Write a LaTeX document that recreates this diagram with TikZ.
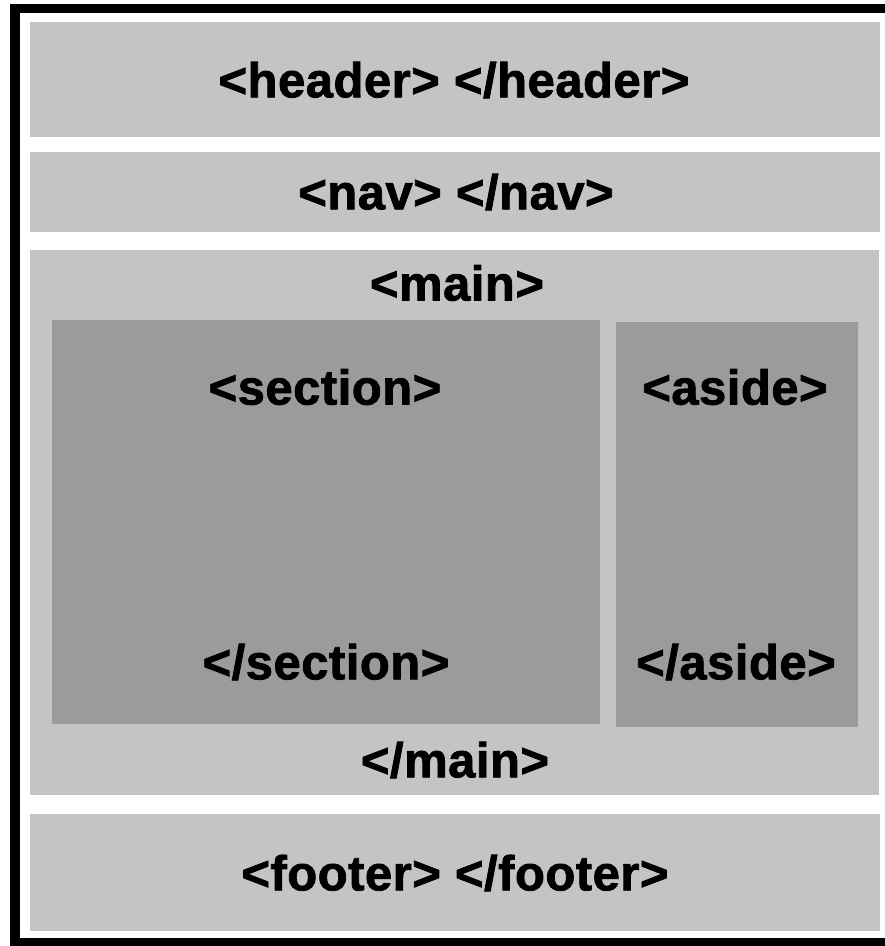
\documentclass[tikz,border=0pt]{standalone}
\usepackage{fontspec}
\setmainfont{Liberation Sans}
\newfontfamily\heavyfont[BoldFont={* Bold}, BoldFeatures={FakeBold=1.6, LetterSpace=1}]{Liberation Sans}
\definecolor{lightbox}{RGB}{196,196,196}
\definecolor{darkbox}{RGB}{155,155,155}
\begin{document}
\begin{tikzpicture}[x=1pt,y=-1pt,
  lbl/.style={font=\heavyfont\fontsize{49}{60}\selectfont\bfseries, text=black, inner sep=0pt},
  lightfill/.style={fill=lightbox, draw=none},
  darkfill/.style={fill=darkbox, draw=none}]
\useasboundingbox (0,0) rectangle (885,946);
\fill[white] (0,0) rectangle (885,946);
\begin{scope}
\clip (0,0) rectangle (885,946);
\draw[line width=9.5pt] (15,8.5) rectangle (893,942.5);
\end{scope}
% bands
\fill[lightfill] (30,22) rectangle (880,137);
\fill[lightfill] (30,152) rectangle (880,232);
\fill[lightfill] (30,250) rectangle (879,795);
\fill[lightfill] (30,814) rectangle (880,931);
% inner boxes
\fill[darkfill] (52,320) rectangle (600,724);
\fill[darkfill] (616,322) rectangle (858,727);
% labels
\node[lbl] (header) at (454,80) {<header> </header>};
\node[lbl] (nav) at (456,192) {<nav> </nav>};
\node[lbl] (mainopen) at (457,283) {<main>};
\node[lbl] (section) at (325,387) {<section>};
\node[lbl] (sectionclose) at (326,662) {</section>};
\node[lbl] (aside) at (735,387) {<aside>};
\node[lbl] (asideclose) at (736,662) {</aside>};
\node[lbl] (mainclose) at (455,760) {</main>};
\node[lbl] (footer) at (455,873) {<footer> </footer>};
\end{tikzpicture}
\end{document}
